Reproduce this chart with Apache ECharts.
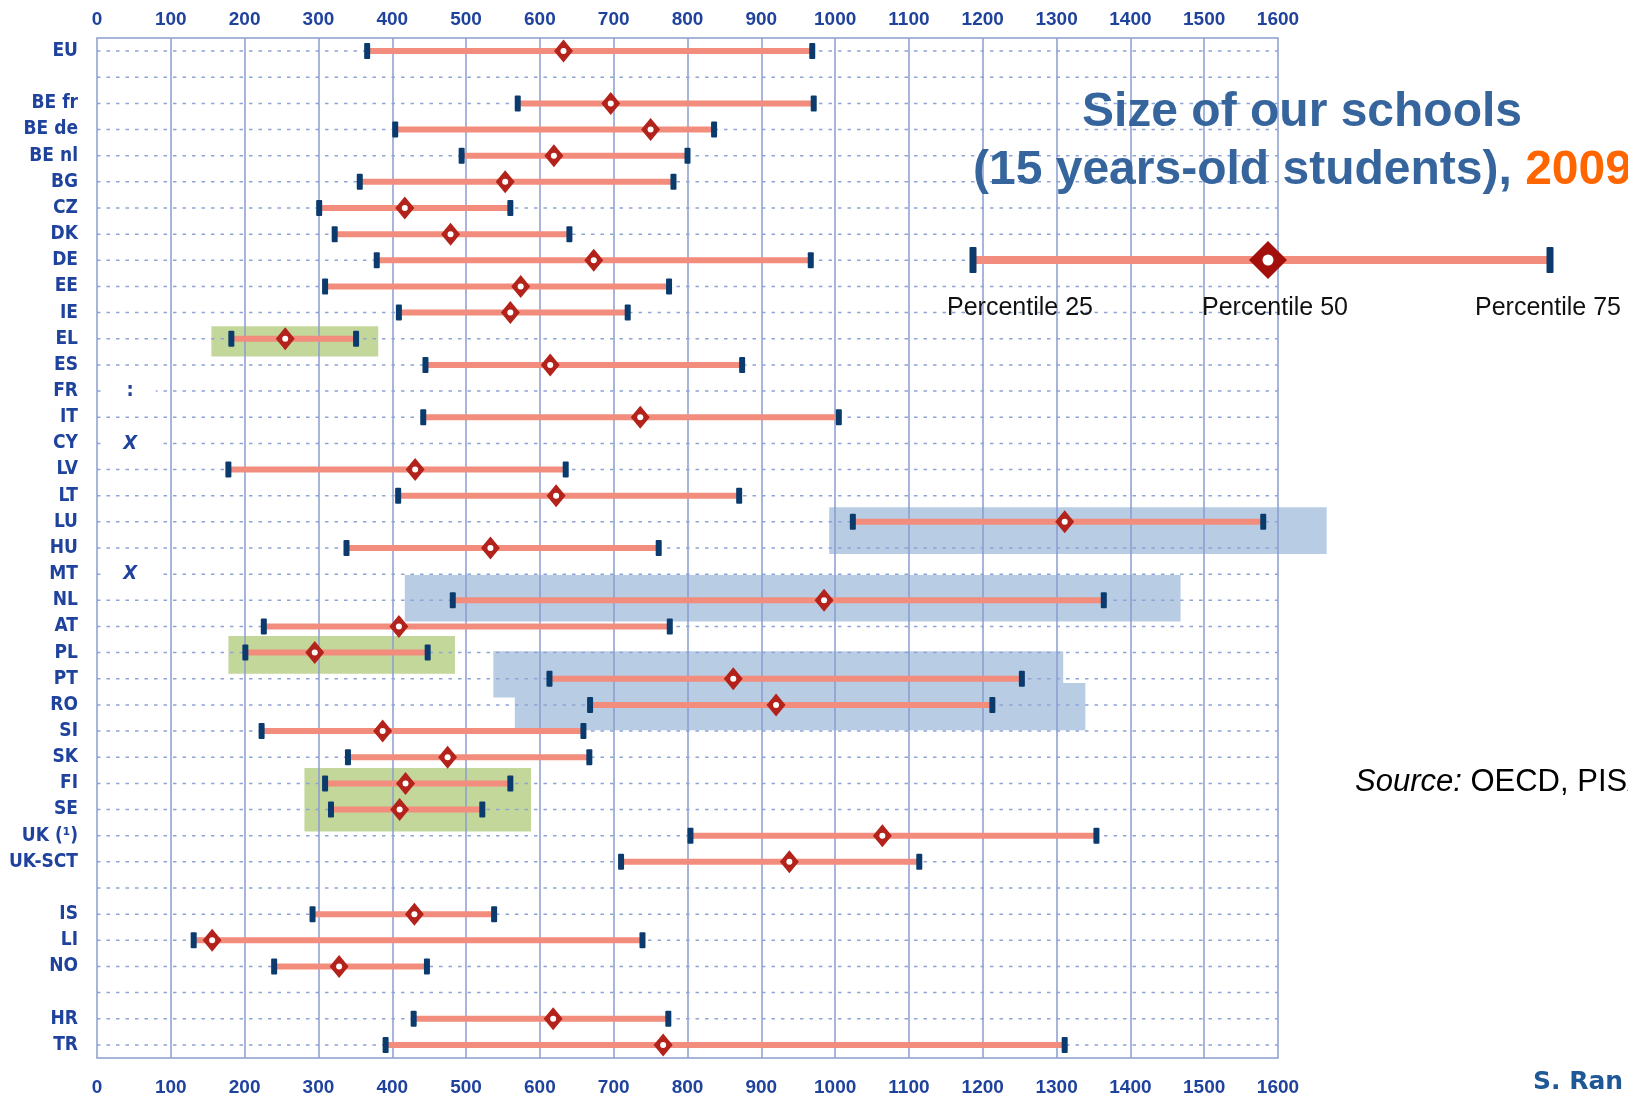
<!DOCTYPE html>
<html>
<head>
<meta charset="utf-8">
<script src="https://cdn.jsdelivr.net/npm/echarts@6/dist/echarts.min.js"></script>
<style>
html,body{margin:0;padding:0;background:#fff;}
#chart{width:1628px;height:1097px;}
</style>
</head>
<body>
<div id="chart"></div>
<script>
// ---- data ----
const categories = ['EU',' ','BE fr','BE de','BE nl','BG','CZ','DK','DE','EE','IE','EL','ES','FR','IT','CY','LV','LT','LU','HU','MT','NL','AT','PL','PT','RO','SI','SK','FI','SE','UK (¹)','UK-SCT','  ','IS','LI','NO','   ','HR','TR'];
const p25 = [366,null,570,404,494,356,301,322,379,309,409,182,445,null,442,null,178,408,1024,338,null,482,226,201,613,668,223,340,309,317,804,710,null,292,131,240,null,429,391];
const p50 = [632,null,696,750,619,553,417,479,673,574,560,255,614,null,736,null,431,622,1311,533,null,985,409,295,862,920,387,475,418,410,1064,938,null,430,156,328,null,618,767];
const p75 = [969,null,971,836,800,781,560,640,967,775,719,351,874,null,1005,null,635,870,1580,761,null,1364,776,448,1253,1213,659,667,560,522,1354,1114,null,538,739,447,null,774,1311];
const xMin = 0, xMax = 1600, xStep = 100;
const noteCats = ['FR','CY','MT'];
const noteSymbols = [':','X','X'];
const noteValue = 45;
// highlight boxes: value range and (fractional) row range
const highlightX = [[155,381],[178,485],[281,588],[417,1468],[537,1309],[566,1339],[992,1666]];
const highlightRows = [[10.52,11.68],[22.36,23.81],[27.41,29.84],[20.03,21.81],[22.95,24.72],[24.16,25.97],[17.44,19.23]];
const highlightKind = ['low','low','low','high','high','high','high'];
const titleLine1 = 'Size of our schools';
const titleLine2 = '(15 years-old students), ';
const titleYear = '2009';
const legendLabels = ['Percentile 25','Percentile 50','Percentile 75'];
const sourceLabel = 'Source:';
const sourceText = ' OECD, PISA 2009';
const authorText = 'S. Ran';

// ---- styles ----
const LABEL_BLUE = '#1f429c';
const GRID_BLUE = '#8a9dd0';
const BAR = '#f28c7c';
const CAP = '#0b3a6c';
const MED = '#b3221b';
const kindColor = {low:'#c4d79b', high:'#b8cce4'};
const kindIndex = {low:0, high:1};
const kindColors = [kindColor.low, kindColor.high];
const NARROW = '"Liberation Sans Narrow","DejaVu Sans Condensed",sans-serif';
const SANS = '"Liberation Sans",Arial,sans-serif';

const rangeData = [];
categories.forEach((c,i)=>{ if(p25[i]!=null) rangeData.push([i,p25[i],p50[i],p75[i]]); });
const rowData = categories.map((c,i)=>[xMin,xMax,i]);
const noteData = noteCats.map((c,k)=>[noteValue, categories.indexOf(c), k]);
const boxData = highlightX.map((r,k)=>[r[0],r[1],highlightRows[k][0],highlightRows[k][1],kindIndex[highlightKind[k]]]);

function rowStep(api){
  const y0 = api.coord([0,0])[1];
  const y1 = api.coord([0,1])[1];
  return [y0, y1-y0];
}
const tickFmt = v => String(v);

const chart = echarts.init(document.getElementById('chart'), null, {renderer:'canvas'});
chart.setOption({
  backgroundColor:'#ffffff',
  animation:false,
  grid:{left:97,right:350,top:38,bottom:38,containLabel:false},
  xAxis:[
    {type:'value',position:'top',min:xMin,max:xMax,interval:xStep,
     axisLine:{show:true,onZero:false,lineStyle:{color:GRID_BLUE,width:1.5}},
     axisTick:{show:false},
     axisLabel:{margin:9,formatter:tickFmt,color:LABEL_BLUE,fontFamily:SANS,fontWeight:'bold',fontSize:19},
     splitLine:{show:true,lineStyle:{color:GRID_BLUE,width:1.5}}},
    {type:'value',position:'bottom',min:xMin,max:xMax,interval:xStep,
     axisLine:{show:true,onZero:false,lineStyle:{color:GRID_BLUE,width:1.5}},
     axisTick:{show:false},
     axisLabel:{margin:20,formatter:tickFmt,color:LABEL_BLUE,fontFamily:SANS,fontWeight:'bold',fontSize:19},
     splitLine:{show:false}}
  ],
  yAxis:{type:'category',data:categories,inverse:true,
    axisLine:{show:false},axisTick:{show:false},splitLine:{show:false},
    axisLabel:{interval:0,margin:19,color:LABEL_BLUE,fontFamily:NARROW,fontWeight:'bold',fontSize:19}},
  series:[
    {type:'custom',name:'highlights',z:-1,silent:true,clip:false,
     encode:{x:[0,1],y:[2,3]},data:boxData,
     renderItem:function(params,api){
       const s = rowStep(api);
       const a = api.coord([api.value(0),0])[0];
       const b = api.coord([api.value(1),0])[0];
       const t = s[0]+api.value(2)*s[1];
       const bt = s[0]+api.value(3)*s[1];
       return {type:'rect',shape:{x:a,y:t,width:b-a,height:bt-t},style:{fill:kindColors[api.value(4)]}};
     }},
    {type:'custom',name:'rows',z:1,silent:true,
     encode:{x:[0,1],y:2},data:rowData,
     renderItem:function(params,api){
       const a = api.coord([api.value(0),api.value(2)]);
       const b = api.coord([api.value(1),api.value(2)]);
       return {type:'line',shape:{x1:a[0],y1:a[1],x2:b[0],y2:b[1]},
               style:{stroke:'#8ea3d6',lineWidth:1.5,lineDash:[3.5,6]}};
     }},
    {type:'custom',name:'Size of schools',z:3,
     encode:{y:0,x:[1,2,3]},data:rangeData,
     renderItem:function(params,api){
       const row = api.value(0);
       const a = api.coord([api.value(1),row]);
       const m = api.coord([api.value(2),row]);
       const b = api.coord([api.value(3),row]);
       const y = a[1];
       return {type:'group',children:[
         {type:'rect',shape:{x:a[0],y:y-3,width:b[0]-a[0],height:6},style:{fill:BAR}},
         {type:'rect',shape:{x:a[0]-3,y:y-8,width:6,height:16,r:1},style:{fill:CAP}},
         {type:'rect',shape:{x:b[0]-3,y:y-8,width:6,height:16,r:1},style:{fill:CAP}},
         {type:'polygon',shape:{points:[[m[0],y-11.5],[m[0]+9.5,y],[m[0],y+11.5],[m[0]-9.5,y]]},style:{fill:MED}},
         {type:'circle',shape:{cx:m[0],cy:y,r:3},style:{fill:'#ffffff'}}
       ]};
     }},
    {type:'custom',name:'notes',z:4,silent:true,
     encode:{x:0,y:1},data:noteData,
     renderItem:function(params,api){
       const p = api.coord([api.value(0),api.value(1)]);
       const k = api.value(2);
       const sym = noteSymbols[k];
       return {type:'text',x:p[0],y:p[1],style:{text:sym,align:'center',verticalAlign:'middle',
         fill:LABEL_BLUE,fontSize:20,fontWeight:'bold',fontStyle: sym==='X'?'italic':'normal',
         fontFamily:NARROW,backgroundColor:'#ffffff',padding:[2,22,2,22]}};
     }}
  ],
  graphic:[
    {type:'text',x:1302,y:113,z:10,style:{text:titleLine1,align:'center',verticalAlign:'middle',
      fill:'#35659c',fontSize:48,fontWeight:'bold',fontFamily:SANS}},
    {type:'text',x:973,y:171,z:10,style:{text:'{a|'+titleLine2+'}{o|'+titleYear+'}',align:'left',verticalAlign:'middle',
      rich:{a:{fill:'#35659c',fontSize:48,fontWeight:'bold',fontFamily:SANS},
            o:{fill:'#ff6600',fontSize:48,fontWeight:'bold',fontFamily:SANS}}}},
    {type:'rect',z:10,shape:{x:973,y:256,width:577,height:8},style:{fill:BAR}},
    {type:'rect',z:11,shape:{x:969.5,y:247,width:7,height:26,r:1},style:{fill:CAP}},
    {type:'rect',z:11,shape:{x:1546.5,y:247,width:7,height:26,r:1},style:{fill:CAP}},
    {type:'polygon',z:11,shape:{points:[[1268,241],[1287,260],[1268,279],[1249,260]]},style:{fill:'#a3100c'}},
    {type:'circle',z:12,shape:{cx:1268,cy:260,r:5.5},style:{fill:'#ffffff'}},
    {type:'text',x:1020,y:308,z:10,style:{text:legendLabels[0],align:'center',verticalAlign:'middle',fill:'#111111',fontSize:25,fontFamily:SANS}},
    {type:'text',x:1275,y:308,z:10,style:{text:legendLabels[1],align:'center',verticalAlign:'middle',fill:'#111111',fontSize:25,fontFamily:SANS}},
    {type:'text',x:1548,y:308,z:10,style:{text:legendLabels[2],align:'center',verticalAlign:'middle',fill:'#111111',fontSize:25,fontFamily:SANS}},
    {type:'text',x:1355,y:782,z:10,style:{text:'{i|'+sourceLabel+'}{r|'+sourceText+'}',align:'left',verticalAlign:'middle',
      rich:{i:{fill:'#000000',fontSize:31,fontStyle:'italic',fontFamily:SANS},
            r:{fill:'#000000',fontSize:31,fontFamily:SANS}}}},
    {type:'text',x:1533,y:1082,z:10,style:{text:authorText,align:'left',verticalAlign:'middle',fill:'#1f5896',fontSize:25,fontWeight:'bold',fontFamily:'"DejaVu Sans",Verdana,sans-serif'}}
  ]
});
</script>
</body>
</html>
